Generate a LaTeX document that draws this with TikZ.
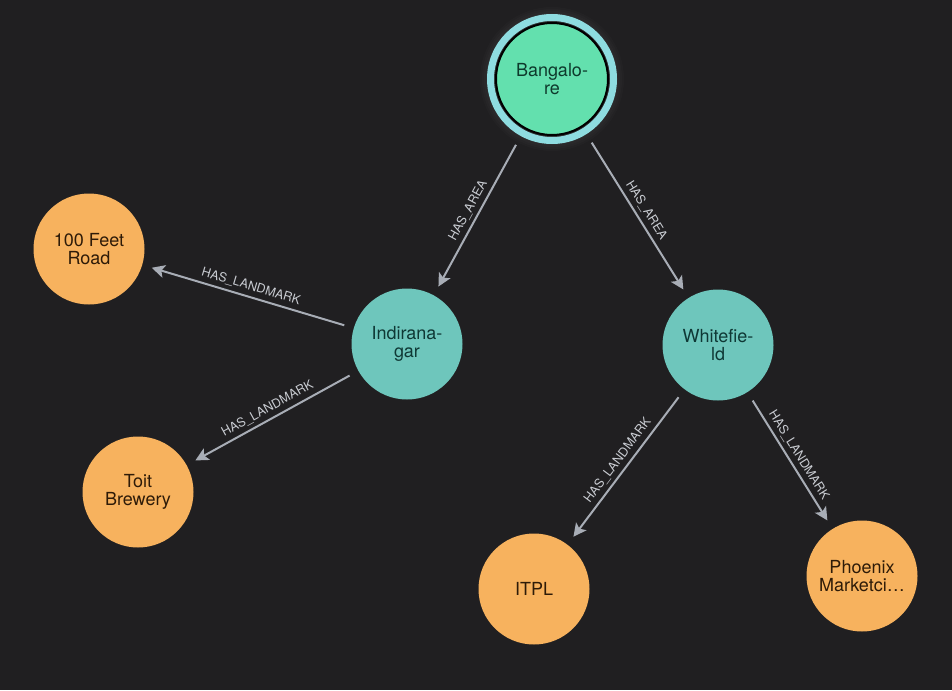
\documentclass[tikz,border=0pt]{standalone}
\usepackage{fontspec}
\setmainfont{TeX Gyre Heros}
\usetikzlibrary{arrows.meta}
\definecolor{bg}{HTML}{201F21}
\definecolor{greenfill}{HTML}{63E0AE}
\definecolor{ringcol}{HTML}{8EDCE0}
\definecolor{tealfill}{HTML}{6EC6BC}
\definecolor{orangefill}{HTML}{F7B25E}
\definecolor{greentext}{HTML}{0E3A2C}
\definecolor{tealtext}{HTML}{0F3835}
\definecolor{orangetext}{HTML}{2E1B08}
\definecolor{edgecol}{HTML}{A8ADB6}
\definecolor{labelcol}{HTML}{C9CCD2}
\begin{document}
\begin{tikzpicture}[x=1pt,y=-1pt,
  ent/.style={circle, minimum size=111pt, inner sep=0pt, align=center,
    font=\fontsize{18}{18.5}\selectfont, outer sep=10pt},
  citynode/.style={ent, fill=greenfill, draw=black, line width=2pt, minimum size=112pt, text=greentext, outer sep=19pt},
  areanode/.style={ent, fill=tealfill, text=tealtext},
  landnode/.style={ent, fill=orangefill, text=orangetext},
  rel/.style={draw=edgecol, line width=2pt, -{Stealth[length=13pt,width=13pt,inset=3pt]}},
  rlab/.style={sloped, above=3.5pt, inner sep=0pt, text=labelcol,
    font=\fontsize{12.5}{13}\selectfont}
]
\fill[bg] (0,0) rectangle (952,690);
\useasboundingbox (0,0) rectangle (952,690);
% halo
\foreach \r in {66,68,70,72}{
  \fill[white, opacity=0.015] (552,79) circle (\r);
}
\draw[ringcol, line width=7pt] (552,79) circle (61.5);
\node[citynode] (bang) at (552,79) {Bangalo-\\re};
\node[areanode] (indira) at (407,344) {Indirana-\\gar};
\node[areanode] (white) at (718,345) {Whitefie-\\ld};
\node[landnode] (feet) at (89,249) {100 Feet\\Road};
\node[landnode] (toit) at (138,492) {Toit\\Brewery};
\node[landnode] (itpl) at (534,589) {ITPL};
\node[landnode] (phoenix) at (862,576) {Phoenix\\Marketci…};

\draw[rel] (bang) -- node[rlab]{HAS\_AREA} (indira);
\draw[rel] (bang) -- node[rlab]{HAS\_AREA} (white);
\draw[rel] (indira) -- node[rlab]{HAS\_LANDMARK} (feet);
\draw[rel] (indira) -- node[rlab]{HAS\_LANDMARK} (toit);
\draw[rel] (white) -- node[rlab]{HAS\_LANDMARK} (itpl);
\draw[rel] (white) -- node[rlab]{HAS\_LANDMARK} (phoenix);
\end{tikzpicture}
\end{document}
